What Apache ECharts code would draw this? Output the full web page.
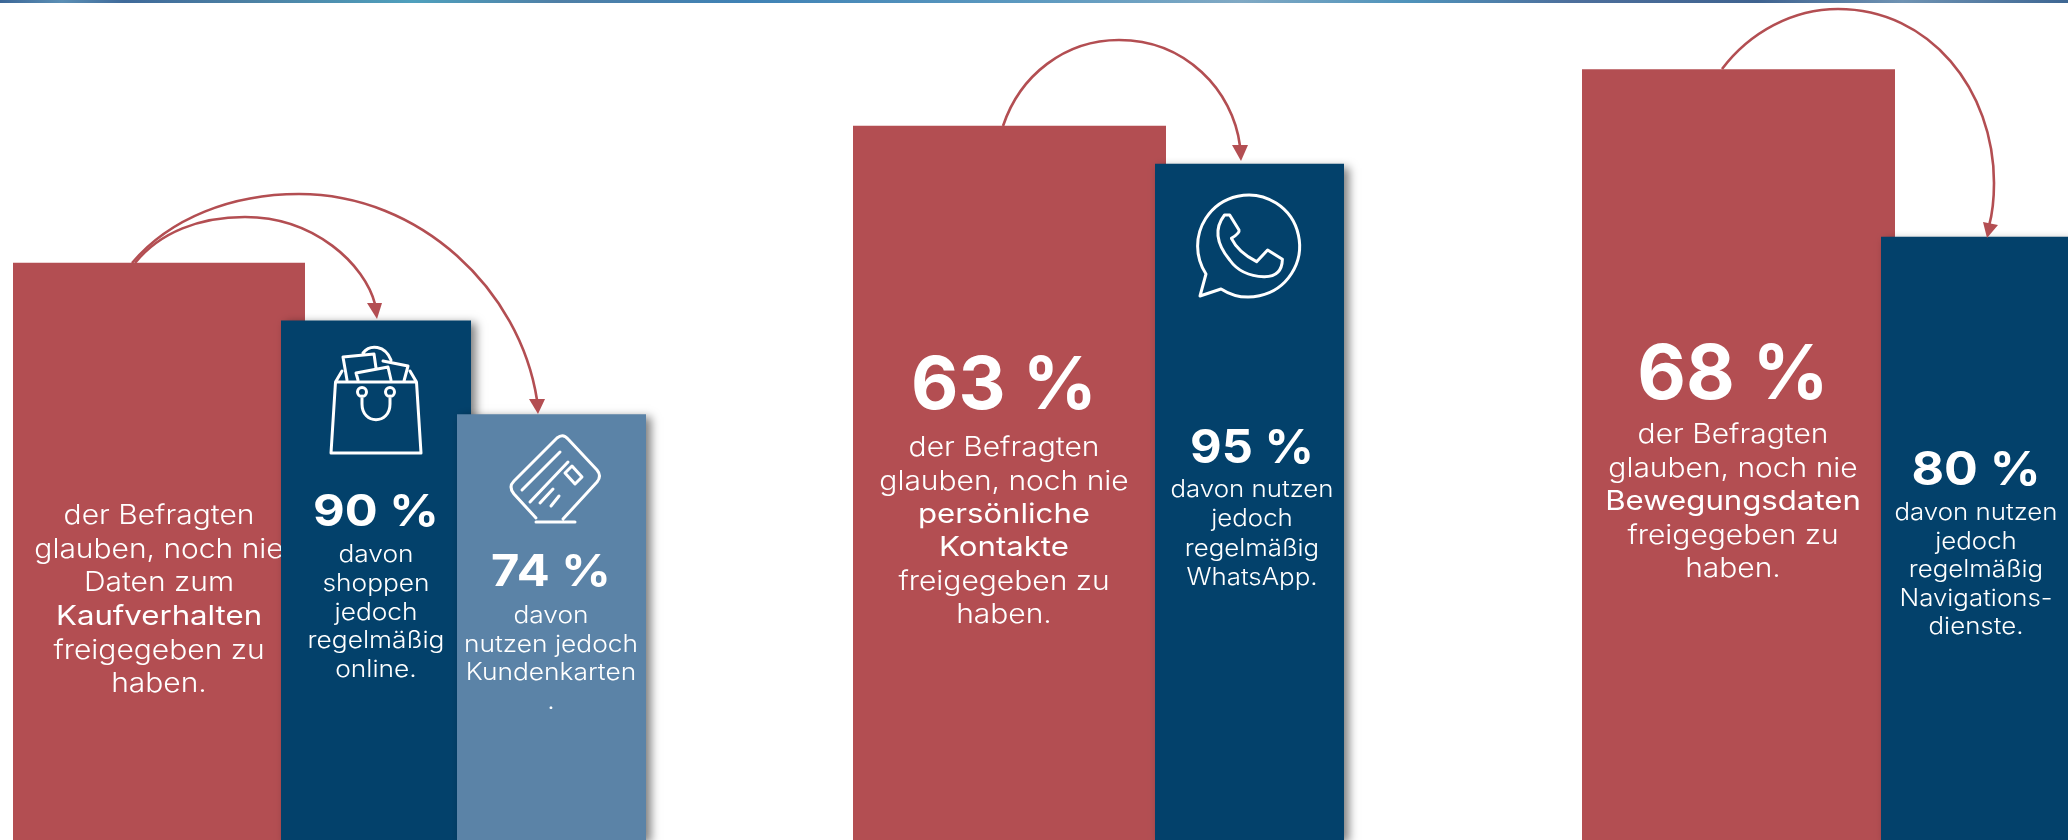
<!DOCTYPE html>
<html lang="de">
<head>
<meta charset="utf-8">
<title>Freigegebene Daten und tatsächliche Nutzung</title>
<style>html,body{margin:0;padding:0;background:#fff}#chart{width:2068px;height:840px}</style>
<script src="https://cdn.jsdelivr.net/npm/echarts@6/dist/echarts.min.js"></script>
</head>
<body>
<div id="chart"></div>
<script>
// Survey values, in percent. The first value has no printed figure of its own.
const categories = ['Kaufverhalten', 'Online-Shopping', 'Kundenkarten', 'Persönliche Kontakte', 'WhatsApp', 'Bewegungsdaten', 'Navigationsdienste'];
const shareValues = [51, 90, 74, 63, 95, 68, 80];
const printedFigure = [false, true, true, true, true, true, true];

// Wording of each column, one entry per line; a leading * marks a bold line.
const columnLines = [
  ['der Befragten', 'glauben, noch nie', 'Daten zum', '*Kaufverhalten', 'freigegeben zu', 'haben.'],
  ['davon', 'shoppen', 'jedoch', 'regelmäßig', 'online.'],
  ['davon', 'nutzen jedoch', 'Kundenkarten', '.'],
  ['der Befragten', 'glauben, noch nie', '*persönliche', '*Kontakte', 'freigegeben zu', 'haben.'],
  ['davon nutzen', 'jedoch', 'regelmäßig', 'WhatsApp.'],
  ['der Befragten', 'glauben, noch nie', '*Bewegungsdaten', 'freigegeben zu', 'haben.'],
  ['davon nutzen', 'jedoch', 'regelmäßig', 'Navigations-', 'dienste.']
];

// Every column has its own value scale, as in a set of separate small charts.
const scaleMax = [74.2, 145.5, 146, 74.1, 118, 74.1, 111.4];
const columnLeft = [13, 281, 457, 853, 1155, 1582, 1881];
const columnWidth = [292, 190, 189, 313, 189, 313, 187];

const RED = '#b34e52', NAVY = '#03416b', BLUE = '#5b83a7';
const columnColor = [RED, NAVY, BLUE, RED, NAVY, RED, NAVY];
const columnZ = [2, 4, 6, 2, 4, 2, 4];
const FONT = 'Inter';

// Text placement per column: centre x, figure y/size/stretch, first line y,
// line pitch, text size and horizontal stretch of the running text.
const textLayout = [
  { x: 159, lineY: 516, pitch: 33.6, size: 27, sx: 1.11 },
  { x: 376, figY: 513, figSize: 44, figSx: 1.11, lineY: 555, pitch: 28.8, size: 23.5, sx: 1.12 },
  { x: 551, figY: 573, figSize: 44, figSx: 1.11, lineY: 616, pitch: 28.6, size: 23.5, sx: 1.12 },
  { x: 1004, figY: 387, figSize: 73, figSx: 1, lineY: 448, pitch: 33.4, size: 27, sx: 1.11 },
  { x: 1252, figY: 449, figSize: 46, figSx: 1.06, lineY: 490, pitch: 29.3, size: 23.5, sx: 1.1 },
  { x: 1733, figY: 376, figSize: 75, figSx: 1, lineY: 435, pitch: 33.5, size: 27, sx: 1.11 },
  { x: 1976, figY: 471, figSize: 46, figSx: 1.09, lineY: 513, pitch: 28.6, size: 23.5, sx: 1.1 }
];

// Free-form stroke built from a compact command string:
// M/L/C/Q as in SVG, Z to close, R for a circular arc (cx cy r start end ccw).
echarts.graphic.registerShape('outline', echarts.graphic.extendShape({
  type: 'outline',
  shape: { d: '' },
  buildPath(ctx, shape) {
    for (const m of shape.d.matchAll(/([A-Z])([^A-Z]*)/g)) {
      const n = m[2].trim().split(/[ ,]+/).filter(Boolean).map(Number);
      switch (m[1]) {
        case 'M': ctx.moveTo(n[0], n[1]); break;
        case 'L': ctx.lineTo(n[0], n[1]); break;
        case 'C': ctx.bezierCurveTo(n[0], n[1], n[2], n[3], n[4], n[5]); break;
        case 'Q': ctx.quadraticCurveTo(n[0], n[1], n[2], n[3]); break;
        case 'R': ctx.arc(n[0], n[1], n[2], n[3], n[4], !!n[5]); break;
        case 'Z': ctx.closePath(); break;
      }
    }
  }
}));

const textElements = [];
columnLines.forEach((lines, i) => {
  const t = textLayout[i];
  const z = columnZ[i] + 1;
  if (printedFigure[i]) {
    textElements.push({
      type: 'text', z, silent: true, x: t.x, y: t.figY, scaleX: t.figSx,
      style: { text: shareValues[i] + ' %', fill: '#fff', font: `700 ${t.figSize}px ${FONT}`, textAlign: 'center', textVerticalAlign: 'middle' }
    });
  }
  lines.forEach((line, k) => {
    const bold = line[0] === '*';
    textElements.push({
      type: 'text', z, silent: true, x: t.x, y: t.lineY + k * t.pitch, scaleX: bold ? t.sx * 1.04 : t.sx,
      style: { text: bold ? line.slice(1) : line, fill: '#fff', font: `${bold ? 400 : 300} ${t.size}px ${FONT}`, textAlign: 'center', textVerticalAlign: 'middle' }
    });
  });
});

// Arrows linking each belief column to its usage column.
const arrows = [
  { d: 'M132 263C170 218 232 194 299 194C420 194 520 290 537 400', head: [[529, 399], [545, 399], [538, 414]] },
  { d: 'M135 263C160 232 200 217 245 217C315 217 365 265 375 304', head: [[367, 303], [382, 303], [377, 319]] },
  { d: 'M1003 126C1020 75 1065 40 1119 40C1185 40 1233 90 1240 146', head: [[1232, 145], [1248, 145], [1241, 161]] },
  { d: 'M1722 69C1750 32 1793 9 1838 9C1930 9 1994 90 1994 183C1994 200 1992 215 1989 226', head: [[1983, 222], [1998, 225], [1987, 238]] }
];
const arrowElements = [];
arrows.forEach(a => {
  arrowElements.push({ type: 'outline', z: 9, silent: true, shape: { d: a.d }, style: { fill: 'none', stroke: RED, lineWidth: 2.6 } });
  arrowElements.push({ type: 'polygon', z: 9, silent: true, shape: { points: a.head }, style: { fill: RED } });
});

// Outline pictograms above the figures.
const icons = [
  // shopping bag with its two handle eyelets
  'M335.5 382L416.5 382L421 453L331 453ZM335.5 382L342 371M416.5 382L410 371M347 380L343 357L374 354L376 368M358 380L356 373L388 367L391 380M383 361L408 366L404 381M363 353C370 344 385 345 391 360M362 396L362 404C362 425 390 425 390 404L390 396M366.5 392R362 392 4.5 0 6.3 0M394.5 392R390 392 4.5 0 6.3 0',
  // payment card on a stand
  'M557 438Q563 433 568 439L597 470Q602 476 597 482L563 519M536 518L514 494Q508 487 514 481L557 438M536 522L575 522M560 452L522 490M568 462L530 502M572 466L582 477L575 484L565 473ZM553 489L540 503M559 496L551 506',
  // speech bubble with telephone receiver
  'M1221 289R1248.6 246 51 2.141 2.560 1L1200 296ZM1224.5 215L1229.7 215L1239 230Q1240 233 1231.4 238.3Q1238 252 1256.6 261.7L1267.6 250L1282.4 259.3Q1282 277 1264 276.7Q1241 276 1229.7 260Q1209 235 1224.5 215Z'
];
const iconElements = icons.map(d => ({
  type: 'outline', z: 8, silent: true, shape: { d },
  style: { fill: 'none', stroke: '#fff', lineWidth: 3, lineJoin: 'round', lineCap: 'round' }
}));

// Thin textured band along the top edge.
const bandStops = [
  [0, '#3c6797'], [0.03, '#5b8fb5'], [0.06, '#3f6a9a'], [0.12, '#4c80a3'], [0.2, '#4fa0bd'], [0.27, '#4f7fa6'],
  [0.36, '#3f82b5'], [0.5, '#5d9ac0'], [0.6, '#80a9c4'], [0.68, '#4f93bb'], [0.76, '#4d6f9c'],
  [0.85, '#3f6390'], [0.92, '#6f93b3'], [1, '#3d6693']
];
const band = {
  type: 'rect', z: 1, silent: true, shape: { x: 0, y: 0, width: 2068, height: 3 },
  style: { fill: new echarts.graphic.LinearGradient(0, 0, 1, 0, bandStops.map(s => ({ offset: s[0], color: s[1] }))) }
};

const grids = categories.map((_, i) => ({ left: columnLeft[i], width: columnWidth[i], top: 0, height: 840, containLabel: false }));
const xAxes = categories.map((c, i) => ({ type: 'category', gridIndex: i, data: [c], show: false }));
const yAxes = categories.map((_, i) => ({ type: 'value', gridIndex: i, min: 0, max: scaleMax[i], show: false }));
const series = categories.map((c, i) => ({
  type: 'bar', name: c, xAxisIndex: i, yAxisIndex: i, z: columnZ[i], clip: false,
  barWidth: '100%', silent: true, data: [shareValues[i]],
  itemStyle: columnColor[i] === RED
    ? { color: RED }
    : { color: columnColor[i], shadowColor: 'rgba(0,0,0,0.5)', shadowBlur: 9, shadowOffsetX: 5, shadowOffsetY: 3 }
}));

const chart = echarts.init(document.getElementById('chart'), null, { renderer: 'canvas' });
chart.setOption({
  animation: false,
  backgroundColor: '#fff',
  tooltip: { show: false },
  grid: grids, xAxis: xAxes, yAxis: yAxes, series,
  graphic: { elements: [band, ...textElements, ...iconElements, ...arrowElements] }
});
</script>
</body>
</html>
